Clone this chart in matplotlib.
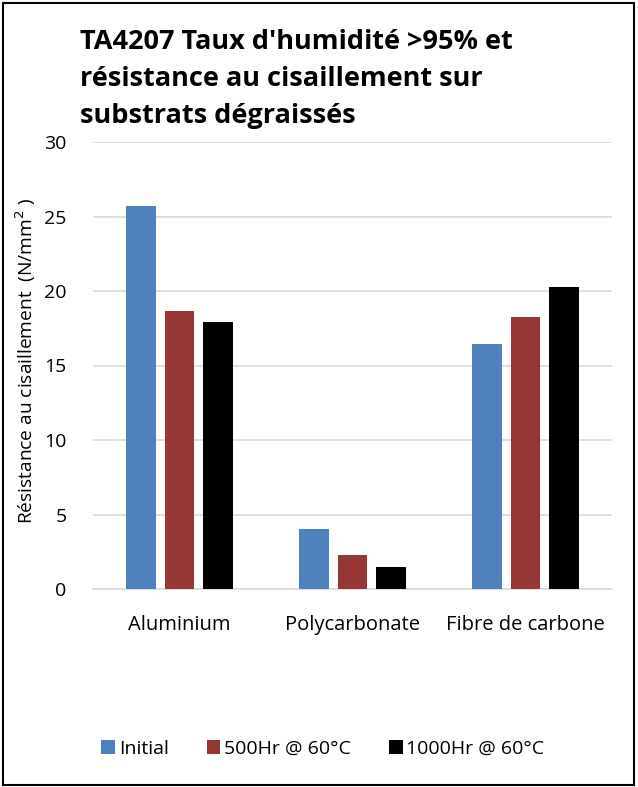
import matplotlib
matplotlib.use("Agg")
import matplotlib.pyplot as plt
import numpy as np
from matplotlib.patches import Rectangle

categories = ["Aluminium", "Polycarbonate", "Fibre de carbone"]
series_names = ["Initial", "500Hr @ 60°C", "1000Hr @ 60°C"]
initial = [25.7, 4.03, 16.45]
hr500 = [18.65, 2.25, 18.25]
hr1000 = [17.9, 1.45, 20.3]
yticks = [0, 5, 10, 15, 20, 25, 30]
colors = ["#4F81BD", "#953735", "#000000"]

plt.rcParams['font.family'] = ['Open Sans', 'DejaVu Sans']

fig = plt.figure(figsize=(6.38, 7.87), dpi=100)
ax = fig.add_axes([93/638, 1 - 589/787, (612-93)/638, (589-142)/787])

x = np.arange(len(categories))
w = 0.172
offs = [-0.221, 0, 0.221]
for vals, off, c, name in zip([initial, hr500, hr1000], offs, colors, series_names):
    ax.bar(x + off, vals, width=w, color=c, label=name, zorder=3)

ax.set_xlim(-0.5, 2.5)
ax.set_ylim(0, 30)
ax.set_yticks(yticks)
ax.set_yticklabels([str(t) for t in yticks], fontsize=14)
ax.set_xticks(x)
ax.set_xticklabels(categories, fontsize=14.5)
ax.tick_params(axis='x', length=0, pad=19)
ax.tick_params(axis='y', length=0, pad=19)
ax.grid(axis='y', color='#D9D9D9', linewidth=1.2, zorder=0)
for s in ['top', 'right', 'left']:
    ax.spines[s].set_visible(False)
ax.spines['bottom'].set_color('#D9D9D9')
ax.spines['bottom'].set_linewidth(1.2)

fig.text(26/638, 1 - 361/787, "Résistance au cisaillement  (N/mm$^{2}$ )", rotation=90,
         fontsize=13.8, ha='center', va='center')

title = "TA4207 Taux d'humidité >95% et\nrésistance au cisaillement sur\nsubstrats dégraissés"
fig.text(80/638, 1 - 29/787, title, fontsize=19.5, fontweight='bold', ha='left', va='top',
         linespacing=1.55)

handles, labels = ax.get_legend_handles_labels()
fig.legend(handles, labels, loc='center', bbox_to_anchor=(323/638, 1 - 749/787), ncol=3,
           frameon=False, fontsize=14, handlelength=0.7, handleheight=0.7,
           handletextpad=0.2, columnspacing=1.95)

fig.patches.append(Rectangle((0.004, 0.002), 0.99, 0.994, transform=fig.transFigure,
                             fill=False, edgecolor='black', linewidth=1.5))

fig.savefig("out.png", dpi=100)
